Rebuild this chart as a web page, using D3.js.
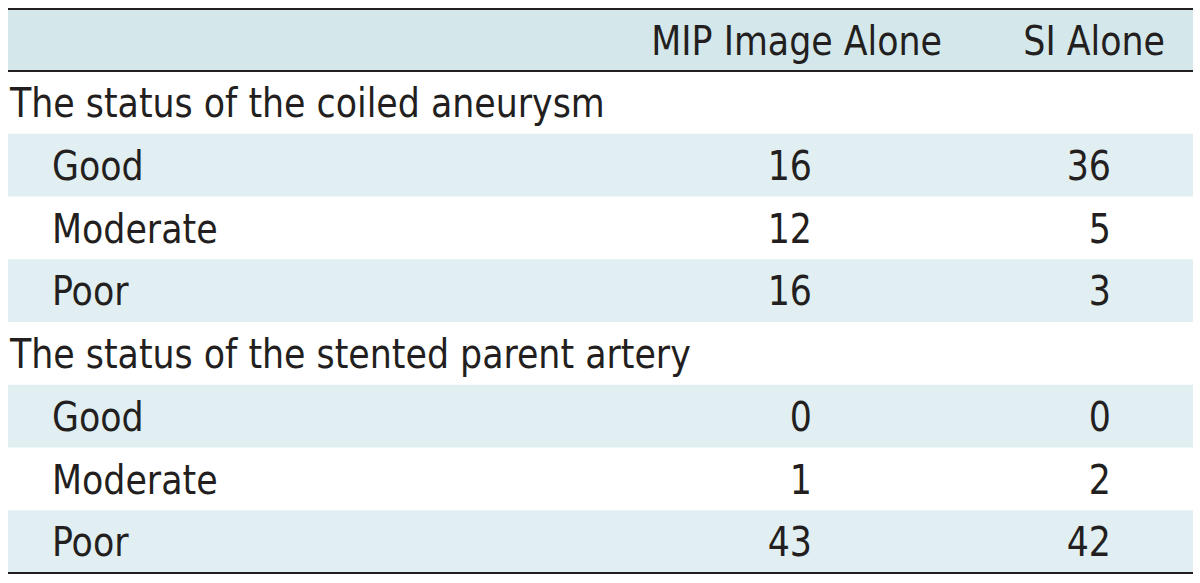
<!DOCTYPE html>
<html>
<head>
<meta charset="utf-8">
<script src="https://cdn.jsdelivr.net/npm/d3@7"></script>
<style>
  html, body { margin: 0; padding: 0; background: #fff; }
  svg { display: block; }
  text { font-family: 'DejaVu Sans Condensed', 'DejaVu Sans', sans-serif; fill: #231f20; }
</style>
</head>
<body>
<script>
const width = 1200;
const height = 583;

const columns = ['MIP Image Alone', 'SI Alone'];
const sections = ['The status of the coiled aneurysm', 'The status of the stented parent artery'];
const grades = ['Good', 'Moderate', 'Poor'];
const mipValues = [16, 12, 16, 0, 1, 43];
const siValues = [36, 5, 3, 0, 2, 42];

const table = { left: 8, right: 1193, top: 9, headBottom: 71, bottom: 573 };
const fontSize = 40;
const shadeHead = '#d4e8ec';
const shadeRow = '#e1eff2';
const ink = '#231f20';

// rows: section title followed by its grades
const rows = [];
sections.forEach((s, si) => {
  rows.push({ id: 'sec' + si, label: s, section: true });
  grades.forEach((g, gi) => {
    const k = si * grades.length + gi;
    rows.push({ id: 'r' + k, label: g, section: false, values: [mipValues[k], siValues[k]], shaded: gi !== 1 });
  });
});

const y = d3.scaleBand()
  .domain(rows.map(d => d.id))
  .range([table.headBottom, table.bottom]);

// right edges of number columns / header labels
const xNum = d3.scaleOrdinal().domain(columns).range([812, 1111]);
const xHead = d3.scaleOrdinal().domain(columns).range([942, 1165]);

const svg = d3.select('body')
  .append('svg')
    .attr('width', width)
    .attr('height', height)
    .attr('viewBox', [0, 0, width, height].join(' '));

// measure a horizontal squeeze so the condensed face matches the reference width
const probe = svg.append('text').attr('font-size', fontSize).text(sections[0]);
const k = 595 / probe.node().getComputedTextLength();
probe.remove();

const label = (g, x, yy, txt, anchor) => g.append('text')
  .attr('font-size', fontSize)
  .attr('text-anchor', anchor || 'start')
  .attr('transform', `translate(${x}, ${yy}) scale(${k}, 1)`)
  .text(txt);

// header
svg.append('rect')
  .attr('x', table.left)
  .attr('y', table.top)
  .attr('width', table.right - table.left)
  .attr('height', table.headBottom - table.top)
  .attr('fill', shadeHead);

const head = svg.append('g');
columns.forEach(c => label(head, xHead(c), 55, c, 'end'));

// body rows
const body = svg.selectAll('.row')
  .data(rows)
  .enter()
    .append('g')
    .attr('class', 'row');

body.filter(d => d.shaded)
  .append('rect')
    .attr('x', table.left)
    .attr('y', d => y(d.id))
    .attr('width', table.right - table.left)
    .attr('height', y.bandwidth())
    .attr('fill', shadeRow);

body.each(function (d) {
  const g = d3.select(this);
  const base = y(d.id) + 46;
  label(g, d.section ? 10 : 52, base, d.label);
  if (d.values) {
    columns.forEach((c, i) => label(g, xNum(c), base, d.values[i], 'end'));
  }
});

// rules
[table.top, table.headBottom, table.bottom].forEach(v => {
  svg.append('line')
    .attr('x1', table.left)
    .attr('x2', table.right)
    .attr('y1', v)
    .attr('y2', v)
    .attr('stroke', ink)
    .attr('stroke-width', 2);
});
</script>
</body>
</html>
